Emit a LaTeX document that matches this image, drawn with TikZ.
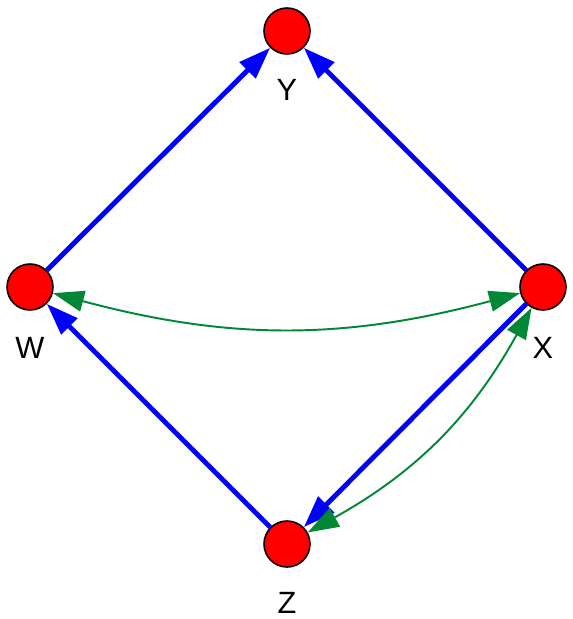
\documentclass[tikz,border=0pt]{standalone}
\usepackage{fontspec}
\setmainfont{Liberation Sans}
\usetikzlibrary{arrows.meta,positioning}
\definecolor{edgeblue}{RGB}{0,0,255}
\definecolor{edgegreen}{RGB}{0,136,55}

\begin{document}
\begin{tikzpicture}[
  vertex/.style={circle, draw, line width=0.9pt, fill=red, minimum size=0.92cm, inner sep=0pt},
  lbl/.style={font=\fontsize{17.5}{20}\selectfont, inner sep=0pt},
  arrow/.style={-{Triangle[length=0.64cm,width=0.44cm]}, line width=2.8pt, edgeblue},
  link/.style={{Triangle[length=0.62cm,width=0.42cm]}-{Triangle[length=0.62cm,width=0.42cm]}, line width=1.1pt, edgegreen},
]
\useasboundingbox (0,0) rectangle (11.46,-12.38);

\node[vertex] (y) at (5.74,-0.62) {};
\node[vertex] (w) at (0.6,-5.74) {};
\node[vertex] (x) at (10.86,-5.74) {};
\node[vertex] (z) at (5.74,-10.88) {};

\node[lbl] (ylab) at (5.74,-1.8) {Y};
\node[lbl] (wlab) at (0.6,-6.96) {W};
\node[lbl] (xlab) at (10.86,-6.96) {X};
\node[lbl] (zlab) at (5.74,-12.06) {Z};

\draw[arrow] (w) -- (y);
\draw[arrow] (x) -- (y);
\draw[arrow] (z) -- (w);
\draw[arrow] (x) -- (z);

\draw[link] (w) to[bend right=15] (x);
\draw[link] (x) to[bend left=16] (z);
\end{tikzpicture}
\end{document}
